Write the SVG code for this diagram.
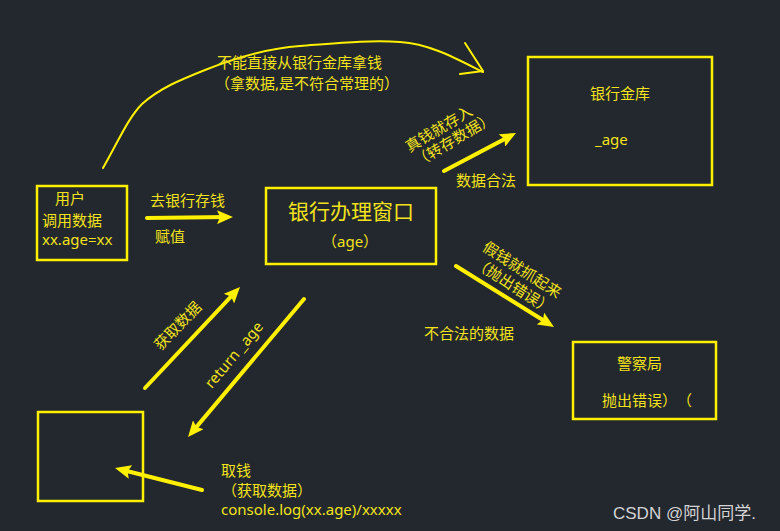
<svg xmlns="http://www.w3.org/2000/svg" width="780" height="531" viewBox="0 0 780 531">
<style>
.bg{fill:#23272e}
.box{fill:none;stroke:#fff000;stroke-width:2.5}
.t{font-family:"Noto Sans","Noto Sans CJK SC",sans-serif;font-size:15px;fill:#f2e31c;text-spacing-trim:space-all}
.big{font-size:21px}
.arr{stroke:#fff000;stroke-width:4;stroke-linecap:round;fill:none;marker-end:url(#ah)}
.curve{stroke:#fff000;stroke-width:2;fill:none;stroke-linecap:round;stroke-linejoin:round}
.wm{font-family:"Liberation Sans","Noto Sans CJK SC",sans-serif;font-size:17px;fill:#d4d4d4}
</style>
<defs>
<marker id="ah" markerUnits="userSpaceOnUse" markerWidth="16" markerHeight="14" refX="10" refY="7" orient="auto" viewBox="0 0 16 14">
<path d="M0,0 L16,7 L0,14 L3,7 z" fill="#fff000"/>
</marker>
</defs>
<rect class="bg" x="0" y="0" width="780" height="531"/>

<g id="user">
<rect class="box" x="37" y="186" width="90" height="74"/>
<text class="t" x="55" y="204">用户</text>
<text class="t" x="42" y="226">调用数据</text>
<text class="t" x="42" y="245">xx.age=xx</text>
</g>

<g id="window">
<rect class="box" x="266" y="188" width="170" height="76"/>
<text class="t big" x="288" y="219">银行办理窗口</text>
<text class="t" x="322" y="247">（age）</text>
</g>

<g id="vault">
<rect class="box" x="528" y="57" width="184" height="128"/>
<text class="t" x="590" y="99">银行金库</text>
<text class="t" x="595" y="145">_age</text>
</g>

<g id="police">
<rect class="box" x="573" y="342" width="143" height="77"/>
<text class="t" x="617" y="369">警察局</text>
<text class="t" x="602" y="406">抛出错误）（</text>
</g>

<g id="result">
<rect class="box" x="38" y="412" width="105" height="89"/>
</g>

<g id="connectors">
<path class="curve" d="M103,168 C118,142 128,118 142,104 C160,88 180,80 205,70 C240,56 270,48 300,46 C340,43 370,40 400,42 C430,44 455,58 483,72"/>
<path class="curve" d="M465,43 L483,71 L460,74"/>
<line class="arr" x1="147" y1="218" x2="227" y2="217"/>
<line class="arr" x1="444" y1="171" x2="510.7" y2="135.8"/>
<line class="arr" x1="456" y1="266" x2="548.9" y2="323.8"/>
<line class="arr" x1="145" y1="388" x2="235.9" y2="291.4"/>
<line class="arr" x1="304" y1="299" x2="191.9" y2="432.4"/>
<line class="arr" x1="202" y1="490" x2="120.8" y2="469.5"/>
</g>

<g id="labels">
<text class="t" x="217" y="68">不能直接从银行金库拿钱</text>
<text class="t" x="215" y="89">（拿数据,是不符合常理的）</text>
<text class="t" x="150" y="206">去银行存钱</text>
<text class="t" x="155" y="242">赋值</text>
<text class="t" x="456" y="186">数据合法</text>
<text class="t" text-anchor="middle" transform="translate(439,129) rotate(-31)" x="0" y="5">真钱就存入</text>
<text class="t" text-anchor="middle" transform="translate(454,140) rotate(-31)" x="0" y="5">（转存数据）</text>
<text class="t" text-anchor="middle" transform="translate(522,270) rotate(33)" x="0" y="5">假钱就抓起来</text>
<text class="t" text-anchor="middle" transform="translate(513,286) rotate(33)" x="0" y="5">（抛出错误）</text>
<text class="t" x="424" y="339">不合法的数据</text>
<text class="t" text-anchor="middle" transform="translate(178,326) rotate(-46)" x="0" y="5">获取数据</text>
<text class="t" text-anchor="middle" transform="translate(234,355) rotate(-50)" x="0" y="5">return _age</text>
<text class="t" x="221" y="476">取钱</text>
<text class="t" x="222" y="496">（获取数据）</text>
<text class="t" x="221" y="515">console.log(xx.age)/xxxxx</text>
</g>

<text class="wm" x="613" y="519">CSDN @阿山同学.</text>
</svg>
